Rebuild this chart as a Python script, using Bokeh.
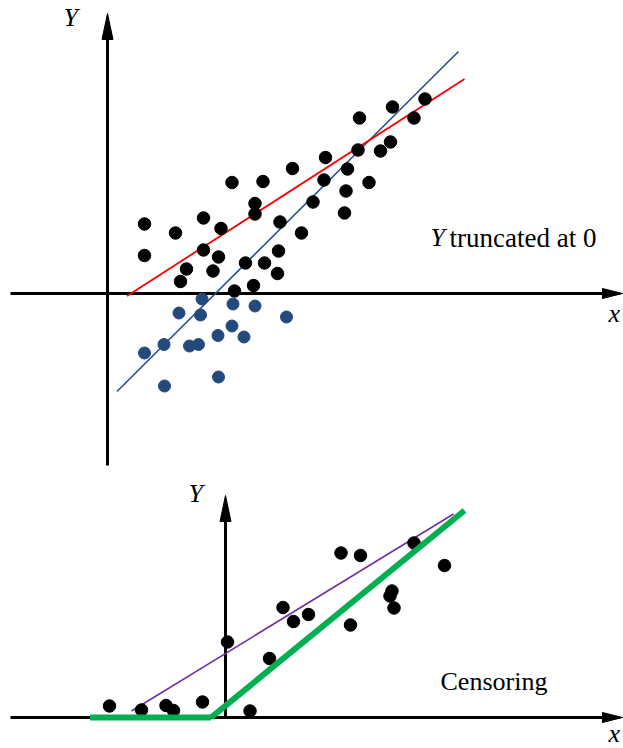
from bokeh.plotting import figure
from bokeh.layouts import column
from bokeh.models import Range1d
from bokeh.core.properties import value
from bokeh.embed import file_html
from bokeh.resources import INLINE

# ---------------- Data: top panel (truncation at 0) ----------------
obs_x = [0.74, 1.36, 1.92, 2.27, 2.49, 3.11, 2.95, 2.95, 3.45, 3.70, 3.88, 4.11, 4.36,
         4.33, 4.74, 4.77, 4.80, 5.04, 5.01, 5.23, 5.46, 5.66, 5.70, 6.13, 6.35,
         0.74, 1.92, 2.22, 3.42, 1.58, 2.11, 2.76, 3.14, 3.40, 1.46, 2.54, 2.92]
obs_y = [1.39, 1.21, 1.51, 1.30, 2.22, 2.24, 1.80, 1.59, 1.43, 2.50, 1.21, 1.83, 2.72,
         2.27, 1.61, 2.05, 2.49, 3.51, 2.87, 2.22, 2.85, 3.03, 3.73, 3.51, 3.89,
         0.76, 0.87, 0.73, 0.85, 0.49, 0.45, 0.61, 0.61, 0.40, 0.24, 0.05, 0.16]
trunc_x = [1.89, 2.51, 2.95, 1.43, 1.86, 3.58, 2.49, 2.21, 2.73, 1.13, 1.64, 1.82, 0.74, 2.22, 1.14]
trunc_y = [-0.11, -0.21, -0.25, -0.39, -0.43, -0.47, -0.65, -0.84, -0.87, -1.02, -1.05, -1.02,
           -1.19, -1.67, -1.85]
fit_trunc_x = [0.39, 7.14]
fit_trunc_y = [-0.05, 4.29]
fit_full_x = [0.19, 7.02]
fit_full_y = [-1.96, 4.84]

# ---------------- Data: bottom panel (censoring) ----------------
cens_x = [-2.32, -1.68, -1.19, -1.04, -0.46, 0.49, 0.04, 0.88, 1.15, 1.36, 1.66,
          2.31, 2.70, 2.50, 3.77, 4.38, 3.33, 3.29, 3.37]
cens_y = [0.23, 0.15, 0.24, 0.14, 0.31, 0.13, 1.51, 1.18, 2.20, 1.92, 2.06,
          3.29, 3.24, 1.85, 3.49, 3.04, 2.53, 2.43, 2.19]
fit_ols_x = [-1.88, 4.56]
fit_ols_y = [0.13, 4.07]
tobit_flat_x = [-2.71, -0.29]
tobit_flat_y = [0.0, 0.0]
tobit_slope_x = [-0.29, 4.78]
tobit_slope_y = [0.0, 4.14]

# ---------------- Layout ----------------
PX = 50.0  # pixels per data unit
W = 623
SERIF = value("Liberation Serif")
BLUE = "#24497d"


def make_fig(h, ox, oy):
    p = figure(width=W, height=h,
               x_range=Range1d(-ox / PX, (W - ox) / PX),
               y_range=Range1d((oy - h) / PX, oy / PX),
               x_axis_type=None, y_axis_type=None,
               toolbar_location=None, output_backend="svg", min_border=0)
    p.outline_line_color = None
    p.background_fill_color = "white"
    p.border_fill_color = "white"
    return p


def axes(p, x0, x_tip, y0, y_tip, hx_len=20, hx_half=5, hy_len=26, hy_half=5.5):
    # horizontal axis
    p.line([x0, x_tip - hx_len / PX], [0, 0], line_color="black", line_width=3)
    p.patch([x_tip, x_tip - hx_len / PX, x_tip - hx_len / PX],
            [0, hx_half / PX, -hx_half / PX], color="black", line_width=1)
    # vertical axis
    p.line([0, 0], [y0, y_tip - hy_len / PX], line_color="black", line_width=3)
    p.patch([0, hy_half / PX, -hy_half / PX],
            [y_tip, y_tip - hy_len / PX, y_tip - hy_len / PX], color="black", line_width=1)


def label(p, x, y, txt, italic=False, size="26px"):
    p.text(x=[x], y=[y], text=[txt], text_font=SERIF, text_font_size=size,
           text_font_style="italic" if italic else "normal",
           text_color="black", text_align="left", text_baseline="alphabetic")


# Top panel
top = make_fig(470, 107, 293)
axes(top, -1.94, 10.30, -3.44, 5.60)
top.line(fit_full_x, fit_full_y, line_color="#2a4f86", line_width=1.6)
top.line(fit_trunc_x, fit_trunc_y, line_color="#ff0000", line_width=1.8)
top.scatter(obs_x, obs_y, size=12.5, color="black")
top.scatter(trunc_x, trunc_y, size=12, color=BLUE)
label(top, -0.88, 5.52, "Y", italic=True)
label(top, 10.02, -0.40, "x", italic=True)
label(top, 6.46, 1.12, "Y", italic=True)
label(top, 6.84, 1.12, "truncated at 0", size="27px")

# Bottom panel
bot = make_fig(278, 225, 247)
axes(bot, -4.30, 7.94, 0.0, 4.44)
bot.line(fit_ols_x, fit_ols_y, line_color="#7030a0", line_width=1.6)
bot.scatter(cens_x, cens_y, size=12.5, color="black")
bot.line(tobit_flat_x, tobit_flat_y, line_color="#00b050", line_width=6)
bot.line(tobit_slope_x, tobit_slope_y, line_color="#00b050", line_width=6)
label(bot, -0.74, 4.48, "Y", italic=True)
label(bot, 7.66, -0.32, "x", italic=True)
label(bot, 4.30, 0.73, "Censoring")

layout = column(top, bot, spacing=0)
open("out.html", "w").write(file_html(layout, INLINE))
